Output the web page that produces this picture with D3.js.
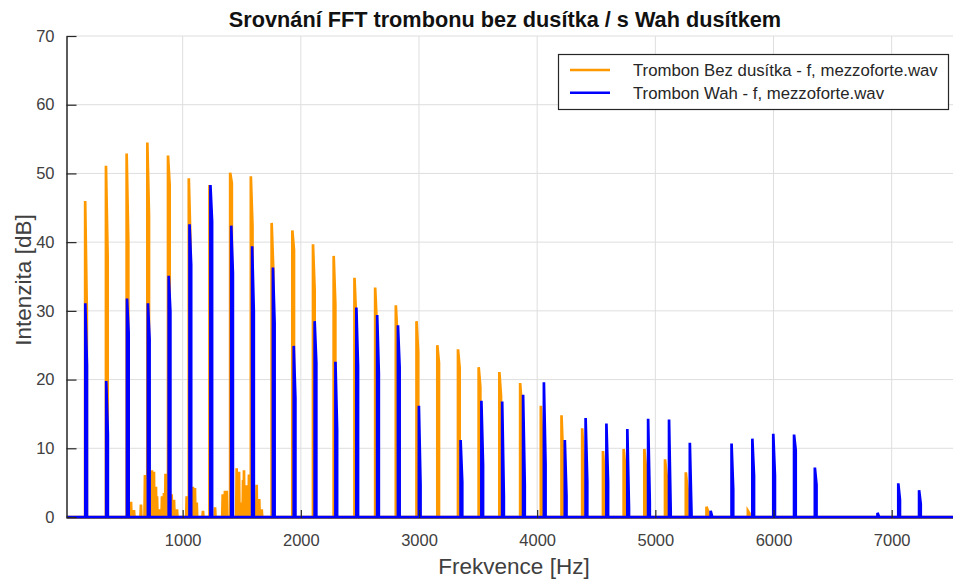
<html>
<head>
	<meta content="text/html;charset=utf-8" http-equiv="Content-Type">
	<script src="https://d3js.org/d3.v7.min.js"></script>
	<style>
		body { margin: 0; background: white; }
		text { font-family: "Liberation Sans", Arial, sans-serif; }
	</style>
</head>
<body>
	<div id="output"></div>
	<script>
		// harmonics without mute (orange): frequency [Hz], peak bin [dB], next bin [dB]
		var bezFreq = [175, 351, 526, 701, 876, 1052, 1227, 1402, 1577, 1753, 1928, 2103, 2278, 2454, 2629, 2804,
			2979, 3155, 3330, 3505, 3680, 3856, 4031, 4206, 4381, 4557, 4732, 4907, 5082, 5258, 5433, 5783];
		var bezPeak = [46.0, 51.1, 52.9, 54.5, 52.6, 49.3, 48.3, 50.1, 49.6, 42.8, 41.7, 39.7, 38.0, 34.8, 33.4, 30.8,
			28.5, 25.0, 24.4, 21.8, 21.1, 19.5, 16.2, 14.8, 12.9, 9.6, 9.9, 9.9, 8.4, 6.5, 1.5, 0.9];
		var bezNext = [30.0, 38.0, 40.0, 44.0, 48.3, 40.0, 44.0, 48.6, 42.3, 36.0, 38.9, 33.0, 31.0, 29.0, 28.0, 26.0,
			24.0, 22.4, 21.7, 18.9, 17.6, 16.0, 10.0, 8.3, 8.0, 6.0, 7.0, 7.0, 6.0, 4.0, 0.8, 0.5];
		// noise between harmonics (orange only)
		var noiseFreq = [563, 588, 647, 681, 740, 757, 774, 783, 800, 825, 842, 855, 907, 927, 952, 1034, 1087, 1104,
			1119, 1172, 1274, 1339, 1358, 1373, 1457, 1477, 1500, 1511, 1519, 1542, 1561, 1626, 1648, 1669];
		var noiseLevel = [2.2, 1.0, 1.8, 6.1, 6.8, 6.6, 4.4, 3.0, 1.1, 3.0, 3.5, 6.3, 3.3, 2.5, 1.1, 3.0, 4.4, 4.2,
			2.1, 0.9, 1.4, 3.3, 3.8, 3.8, 7.1, 6.6, 2.1, 5.4, 6.8, 4.6, 6.2, 4.7, 2.6, 1.1];
		// harmonics with Wah mute (blue)
		var wahFreq = [176, 353, 529, 706, 882, 1058, 1235, 1411, 1588, 1764, 1940, 2117, 2293, 2470, 2646, 2822,
			2999, 3352, 3528, 3704, 3881, 4057, 4234, 4410, 4586, 4763, 4939, 5116, 5292, 5468, 5645, 5821,
			5998, 6174, 6350, 6880, 7056, 7232];
		var wahPeak = [31.1, 19.8, 31.8, 31.1, 35.1, 42.6, 48.3, 42.4, 39.4, 36.3, 24.9, 28.5, 22.6, 30.5, 29.4, 27.9,
			16.2, 11.2, 16.9, 16.8, 17.8, 19.6, 11.2, 14.4, 13.6, 12.8, 14.3, 14.2, 10.8, 0.9, 10.7, 11.4,
			12.1, 12.0, 7.2, 0.6, 4.9, 3.9];
		var wahNext = [22.0, 12.0, 26.7, 25.9, 29.9, 36.7, 43.0, 35.5, 29.9, 28.3, 17.3, 22.4, 12.7, 21.9, 20.9, 21.8,
			4.7, 5.1, 7.6, 2.9, 4.7, 7.7, 3.0, 5.1, 5.0, 1.3, 2.1, 0.8, 0.5, 0.0, 4.0, 6.0,
			6.0, 9.7, 4.7, 0.0, 2.5, 1.9];

		var xTicks = [1000, 2000, 3000, 4000, 5000, 6000, 7000];
		var yTicks = [0, 10, 20, 30, 40, 50, 60, 70];
		var xRange = [17, 7519];
		var yRange = [0, 70];
		var legendNames = ["Trombon Bez dusítka - f, mezzoforte.wav", "Trombon Wah - f, mezzoforte.wav"];
		var legendColors = ["#ff9900", "#0000ff"];

		drawChart();

		function drawChart() {
			var width = 953, height = 579;
			var pl = 66.5, pr = 953, pt = 36, pb = 517;
			var bin = 14;

			var svg = d3.select("#output")
				.append("svg")
				.attr("width", width)
				.attr("height", height);

			var x = d3.scaleLinear().domain(xRange).range([pl, pr]);
			var y = d3.scaleLinear().domain(yRange).range([pb, pt]);

			svg.append("clipPath").attr("id", "plotclip")
				.append("rect")
				.attr("x", pl).attr("y", pt - 2)
				.attr("width", pr - pl).attr("height", pb - pt + 4);

			// grid
			svg.append("g").selectAll("line")
				.data(xTicks).enter().append("line")
				.attr("x1", d => x(d)).attr("x2", d => x(d))
				.attr("y1", pt).attr("y2", pb)
				.style("stroke", "#dedede").style("stroke-width", 1);
			svg.append("g").selectAll("line")
				.data(yTicks.slice(1)).enter().append("line")
				.attr("x1", pl).attr("x2", pr)
				.attr("y1", d => y(d)).attr("y2", d => y(d))
				.style("stroke", "#dedede").style("stroke-width", 1);

			// spectrum points: each harmonic is a peak bin and the bin after it
			function spectrum(freq, peak, next, nf, nl) {
				var pts = [[xRange[0], 0], [xRange[1], 0]];
				for (var i = 0; i < freq.length; i++) {
					pts.push([freq[i] - 0.01, 0]);
					pts.push([freq[i], peak[i]]);
					pts.push([freq[i] + bin, next[i]]);
					pts.push([freq[i] + bin + 0.01, 0]);
				}
				if (nf) {
					for (var j = 0; j < nf.length; j++) {
						pts.push([nf[j] - 4, 0]);
						pts.push([nf[j], nl[j]]);
						pts.push([nf[j] + 4, 0]);
					}
				}
				pts.sort(function(a, b) { return a[0] - b[0]; });
				return pts;
			}

			var line = d3.line().x(d => x(d[0])).y(d => y(d[1]));

			// axis line below the data
			svg.append("line")
				.attr("x1", pl).attr("x2", pr)
				.attr("y1", pb + 1).attr("y2", pb + 1)
				.style("stroke", "#262626").style("stroke-width", 1.5);

			var plot = svg.append("g").attr("clip-path", "url(#plotclip)");
			plot.append("path")
				.attr("d", line(spectrum(bezFreq, bezPeak, bezNext, noiseFreq, noiseLevel)))
				.style("fill", "none")
				.style("stroke", legendColors[0])
				.style("stroke-width", 2.7);
			plot.append("path")
				.attr("d", line(spectrum(wahFreq, wahPeak, wahNext)))
				.style("fill", "none")
				.style("stroke", legendColors[1])
				.style("stroke-width", 2.7);

			// axes
			var yAxis = d3.axisLeft(y).tickValues(yTicks).tickSizeInner(-10).tickSizeOuter(0).tickPadding(12);
			var gy = svg.append("g").attr("transform", "translate(" + pl + ",0)").call(yAxis);
			var xAxis = d3.axisBottom(x).tickValues(xTicks).tickFormat(d3.format("d"))
				.tickSizeInner(-8).tickSizeOuter(0).tickPadding(16);
			var gx = svg.append("g").attr("transform", "translate(0," + (pb + 1) + ")").call(xAxis);
			gx.select(".domain").remove();
			gy.select(".domain").style("stroke", "#262626").style("stroke-width", 1.5);
			svg.selectAll(".tick line").style("stroke", "#262626").style("stroke-width", 1.2);
			svg.selectAll(".tick text")
				.style("font-family", "'Liberation Sans', Arial, sans-serif")
				.style("font-size", "16.5px")
				.style("fill", "#404040");

			// title and labels
			svg.append("text")
				.attr("x", 505).attr("y", 27)
				.style("font-size", "21.7px")
				.style("font-weight", "bold")
				.style("text-anchor", "middle")
				.style("fill", "#111")
				.text("Srovnání FFT trombonu bez dusítka / s Wah dusítkem");
			svg.append("text")
				.attr("x", 514).attr("y", 574)
				.style("font-size", "22.5px")
				.style("text-anchor", "middle")
				.style("fill", "#404040")
				.text("Frekvence [Hz]");
			svg.append("text")
				.attr("transform", "translate(31,280) rotate(-90)")
				.style("font-size", "22.5px")
				.style("text-anchor", "middle")
				.style("fill", "#404040")
				.text("Intenzita [dB]");

			// legend
			var lg = svg.append("g");
			lg.append("rect")
				.attr("x", 558.5).attr("y", 54.5)
				.attr("width", 390).attr("height", 55)
				.style("fill", "white")
				.style("stroke", "#262626")
				.style("stroke-width", 1.2);
			legendNames.forEach(function(name, i) {
				var ly = 70 + i * 22.7;
				lg.append("line")
					.attr("x1", 570).attr("x2", 610)
					.attr("y1", ly).attr("y2", ly)
					.style("stroke", legendColors[i])
					.style("stroke-width", 2.4);
				lg.append("text")
					.attr("x", 633).attr("y", ly + 6)
					.style("font-size", "16.75px")
					.style("fill", "#262626")
					.text(name);
			});
		}
	</script>
</body>
</html>
